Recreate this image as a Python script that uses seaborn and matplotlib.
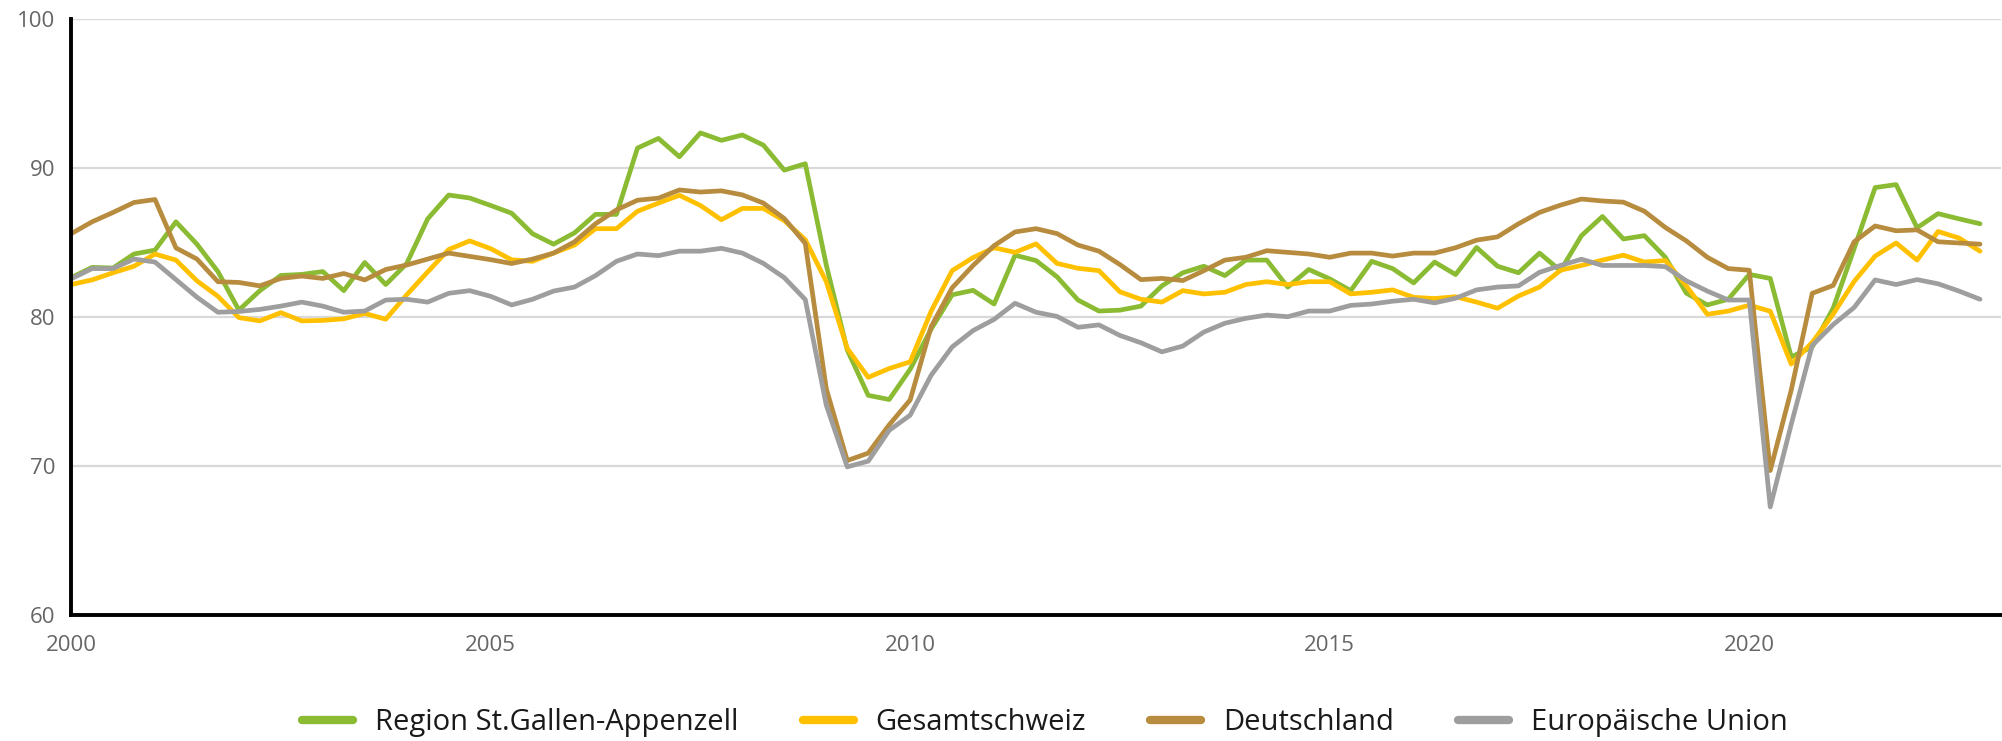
import numpy as np
import pandas as pd
import seaborn as sns
import matplotlib.pyplot as plt
from matplotlib.ticker import MultipleLocator, FixedLocator

# Quarterly index values, 2000 Q1 .. 2022 Q4
series_names = ["Region St.Gallen-Appenzell", "Gesamtschweiz", "Deutschland", "Europäische Union"]

st_gallen = [
    82.65, 83.34, 83.3, 84.24, 84.5, 86.4, 84.9, 83.06, 80.47, 81.78, 82.8, 82.87,
    83.06, 81.78, 83.67, 82.19, 83.6, 86.6, 88.2, 88.0, 87.5, 86.98, 85.6, 84.9,
    85.66, 86.9, 86.9, 91.35, 92.0, 90.77, 92.37, 91.87, 92.23, 91.55, 89.87, 90.3,
    83.5, 77.8, 74.75, 74.47, 76.5, 79.2, 81.5, 81.8, 80.88, 84.16, 83.8, 82.71,
    81.15, 80.41, 80.47, 80.74, 82.1, 82.98, 83.42, 82.79, 83.83, 83.83, 82.02, 83.2,
    82.57, 81.78, 83.75, 83.26, 82.3, 83.7, 82.86, 84.68, 83.42, 82.98, 84.3, 83.12,
    85.47, 86.76, 85.25, 85.47, 84.02, 81.61, 80.82, 81.2, 82.87, 82.6, 77.33, 78.0,
    80.6, 84.6, 88.7, 88.9, 86.0, 86.95, 86.6, 86.27,
]
schweiz = [
    82.19, 82.5, 82.98, 83.42, 84.24, 83.83, 82.44, 81.4, 79.97, 79.75, 80.3, 79.75,
    79.78, 79.89, 80.25, 79.86, 81.5, 83.04, 84.54, 85.12, 84.6, 83.85, 83.75, 84.3,
    84.84, 85.94, 85.94, 87.11, 87.66, 88.18, 87.5, 86.54, 87.3, 87.3, 86.48, 85.2,
    82.39, 77.9, 75.96, 76.55, 77.0, 80.4, 83.12, 84.0, 84.66, 84.35, 84.92, 83.61,
    83.28, 83.12, 81.7, 81.2, 81.01, 81.78, 81.56, 81.67, 82.19, 82.38, 82.19, 82.38,
    82.38, 81.56, 81.67, 81.83, 81.33, 81.25, 81.37, 81.01, 80.6, 81.42, 82.02, 83.15,
    83.47, 83.83, 84.16, 83.7, 83.8, 82.1, 80.19, 80.41, 80.8, 80.4, 76.85, 78.3,
    80.2, 82.4, 84.1, 84.98, 83.83, 85.75, 85.31, 84.43,
]
deutschland = [
    85.6, 86.4, 87.03, 87.7, 87.9, 84.65, 83.9, 82.38, 82.33, 82.1, 82.6, 82.76,
    82.6, 82.93, 82.5, 83.2, 83.5, 83.9, 84.3, 84.08, 83.86, 83.6, 83.9, 84.3,
    85.06, 86.27, 87.2, 87.85, 87.99, 88.54, 88.4, 88.48, 88.21, 87.66, 86.62, 84.95,
    75.2, 70.37, 70.87, 72.77, 74.44, 79.36, 81.97, 83.47, 84.8, 85.72, 85.94, 85.61,
    84.84, 84.43, 83.53, 82.52, 82.6, 82.46, 83.12, 83.83, 84.02, 84.46, 84.35, 84.24,
    84.02, 84.3, 84.3, 84.1, 84.3, 84.3, 84.66, 85.17, 85.39, 86.27, 87.03, 87.52,
    87.93, 87.8, 87.72, 87.11, 86.02, 85.12, 84.02, 83.26, 83.15, 69.7, 75.1, 81.6,
    82.13, 85.06, 86.12, 85.8, 85.86, 85.06, 84.98, 84.9,
]
eu = [
    82.57, 83.26, 83.26, 83.9, 83.7, 82.52, 81.34, 80.33, 80.38, 80.52, 80.74, 81.01,
    80.74, 80.33, 80.41, 81.15, 81.2, 81.01, 81.6, 81.78, 81.4, 80.82, 81.2, 81.75,
    82.02, 82.79, 83.75, 84.24, 84.13, 84.43, 84.43, 84.62, 84.3, 83.61, 82.65, 81.18,
    74.1, 69.95, 70.33, 72.4, 73.42, 76.1, 78.0, 79.1, 79.85, 80.93, 80.33, 80.05,
    79.32, 79.48, 78.77, 78.28, 77.67, 78.06, 79.0, 79.59, 79.92, 80.14, 80.03, 80.41,
    80.41, 80.79, 80.88, 81.07, 81.2, 80.96, 81.27, 81.83, 82.02, 82.1, 83.01, 83.47,
    83.89, 83.47, 83.47, 83.47, 83.39, 82.44, 81.75, 81.15, 81.15, 67.26, 72.8, 78.1,
    79.5, 80.65, 82.5, 82.19, 82.52, 82.24, 81.75, 81.2,
]
colors = ["#8ABB33", "#FFC000", "#B88C3E", "#9E9E9E"]

quarters = 2000 + np.arange(len(st_gallen)) / 4

frames = []
for name, vals in zip(series_names, [st_gallen, schweiz, deutschland, eu]):
    frames.append(pd.DataFrame({"Jahr": quarters, "Wert": vals, "Serie": name}))
data = pd.concat(frames, ignore_index=True)

sns.set_theme(style="white")
plt.rcParams["font.family"] = ["Open Sans", "DejaVu Sans"]

fig = plt.figure(figsize=(20.02, 7.41), dpi=100)
ax = fig.add_axes([0.0355, 0.170, 0.964, 0.804])

sns.lineplot(data=data, x="Jahr", y="Wert", hue="Serie", hue_order=series_names,
             palette=colors, linewidth=3.4, ax=ax, legend=True)

ax.set_xlim(2000, 2023)
ax.set_ylim(60, 100)
ax.xaxis.set_major_locator(FixedLocator([2000, 2005, 2010, 2015, 2020]))
ax.xaxis.set_minor_locator(MultipleLocator(1))
ax.yaxis.set_major_locator(MultipleLocator(10))
ax.grid(axis="y", color="#d9d9d9", linewidth=1.6)
ax.set_axisbelow(True)

for side in ["top", "right"]:
    ax.spines[side].set_visible(False)
for side in ["left", "bottom"]:
    ax.spines[side].set_color("black")
    ax.spines[side].set_linewidth(2.8)

ax.tick_params(axis="both", which="both", direction="out", color="black",
               length=5.5, width=2.2, labelsize=16, labelcolor="#666666")
ax.tick_params(axis="x", which="both", pad=9)
ax.tick_params(axis="y", pad=6)
ax.set_xlabel("")
ax.set_ylabel("")

# legend below the plot, one row
handles, labels = ax.get_legend_handles_labels()
ax.get_legend().remove()
for h in handles:
    h.set_linewidth(6)
fig.legend(handles, labels, loc="center", bbox_to_anchor=(0.522, 0.025), ncol=4,
           frameon=False, fontsize=21, handlelength=1.75, handletextpad=0.75,
           columnspacing=2.2, labelcolor="#1a1a1a")

fig.savefig("out.png", dpi=100)
